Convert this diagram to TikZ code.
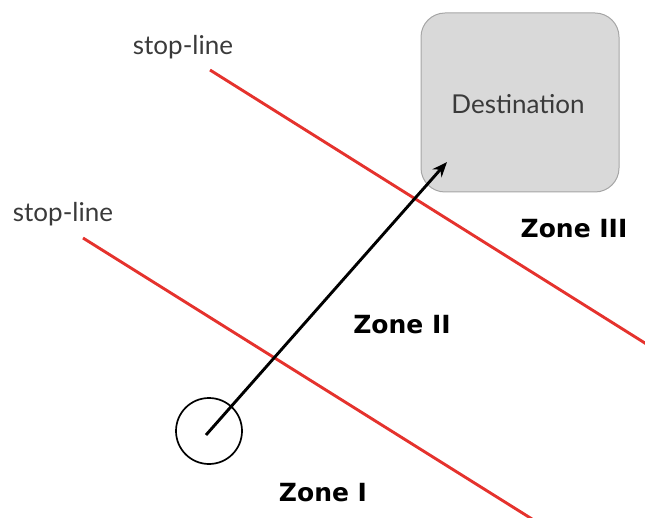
\documentclass[tikz,border=0pt]{standalone}
\usepackage{fontspec}
\setmainfont{Lato}
\newfontfamily\zonefont{DejaVu Sans}
\usetikzlibrary{arrows.meta}
\definecolor{stopred}{HTML}{E5322D}
\definecolor{destfill}{HTML}{D9D9D9}
\definecolor{destdraw}{HTML}{A6A6A6}
\definecolor{labelgray}{HTML}{3A3A3A}
\begin{document}
\begin{tikzpicture}[x=1pt,y=-1pt,
  stopline/.style={draw=stopred,line width=2.9pt},
  stoplabel/.style={text=labelgray,font=\fontsize{26}{30}\selectfont,inner sep=0pt},
  zonelabel/.style={font=\zonefont\fontsize{25}{28}\selectfont\bfseries,inner sep=0pt},
  destbox/.style={draw=destdraw,fill=destfill,line width=1pt,rounded corners=24pt,
    minimum width=198pt,minimum height=179pt},
  destlabelstyle/.style={text=labelgray,font=\fontsize{26}{30}\selectfont,inner sep=0pt},
  vehicle/.style={draw,circle,line width=1.7pt,minimum size=66pt,inner sep=0pt},
  route/.style={line width=2.9pt,-{Stealth[length=15pt,width=12pt]}}]
\useasboundingbox (0,0) rectangle (645,518);
% stop-lines
\coordinate (s1a) at (210,70);
\coordinate (s1b) at (648,345);
\coordinate (s2a) at (83,238);
\coordinate (s2b) at (532,519);
\draw[stopline] (s1a) -- (s1b);
\draw[stopline] (s2a) -- (s2b);
% destination
\node[destbox] (dest) at (520,102.5) {};
\node[destlabelstyle] (destlabel) at (518,104) {Destination};
% vehicle and route
\node[vehicle] (veh) at (209,431) {};
\coordinate (start) at (206,435);
\coordinate (tip) at (447,162);
\draw[route] (start) -- (tip);
% labels
\node[stoplabel] (sl1) at (183,47) {stop-line};
\node[stoplabel] (sl2) at (63,214) {stop-line};
\node[zonelabel] (z3) at (574,229) {Zone III};
\node[zonelabel] (z2) at (402,325) {Zone II};
\node[zonelabel] (z1) at (323,493) {Zone I};
\end{tikzpicture}
\end{document}
